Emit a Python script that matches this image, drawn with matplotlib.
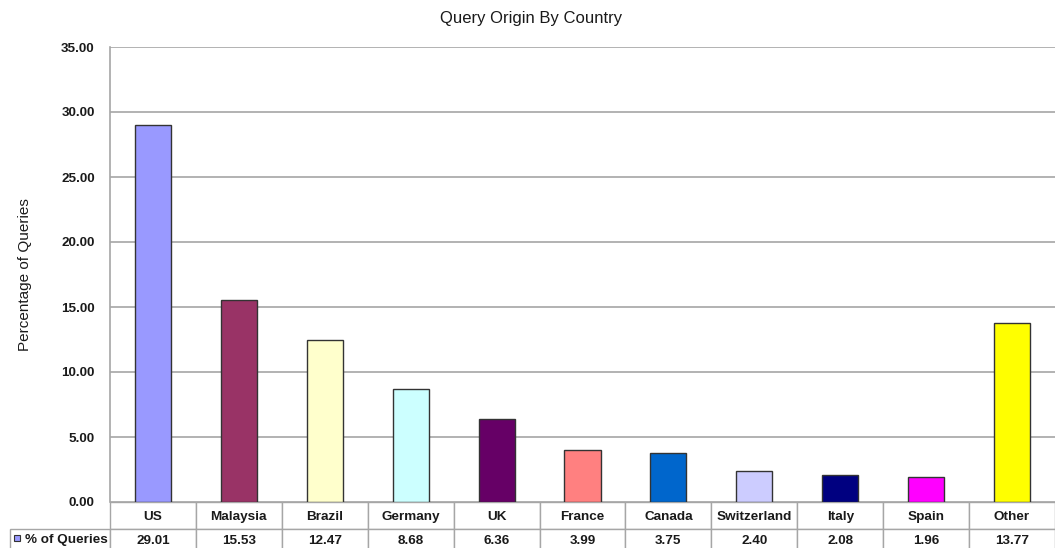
import matplotlib.pyplot as plt
from matplotlib.table import Table
from matplotlib.patches import Rectangle
import numpy as np

# data
countries = ["US", "Malaysia", "Brazil", "Germany", "UK", "France",
             "Canada", "Switzerland", "Italy", "Spain", "Other"]
pct_queries = [29.01, 15.53, 12.47, 8.68, 6.36, 3.99, 3.75, 2.40, 2.08, 1.96, 13.77]
bar_colors = ["#9999FF", "#993366", "#FFFFCC", "#CCFFFF", "#660066", "#FF8080",
              "#0066CC", "#CCCCFF", "#000080", "#FF00FF", "#FFFF00"]
series_name = "% of Queries"

plt.rcParams['font.family'] = ['Liberation Sans', 'DejaVu Sans']
grid_gray = "#a6a6a6"
txt_color = "#1a1a1a"
fs = 9.7

W, H = 1055, 548
fig = plt.figure(figsize=(W / 100, H / 100), dpi=100)
# plot area in pixels: left 110, right 1055, top 47, bottom 502
ax = fig.add_axes([110 / W, (H - 502) / H, 945 / W, 455 / H])

x = np.arange(len(countries))
ax.bar(x, pct_queries, width=0.42, color=bar_colors, edgecolor="#333333",
       linewidth=1.0, zorder=3)

ax.set_xlim(-0.5, len(countries) - 0.5)
ax.set_ylim(0, 35)
ax.set_yticks(np.arange(0, 36, 5))
ax.set_yticklabels([f"{v:.2f}" for v in np.arange(0, 36, 5)],
                   fontsize=fs, fontweight="bold", color=txt_color)
ax.tick_params(axis="y", length=0, pad=11)
ax.set_xticks([])
ax.grid(axis="y", color=grid_gray, linewidth=1.2, zorder=0)
for s in ["top", "right", "bottom"]:
    ax.spines[s].set_visible(False)
ax.spines["left"].set_color(grid_gray)
ax.spines["left"].set_linewidth(1.2)

ax.set_ylabel("Percentage of Queries", fontsize=11, labelpad=21, color=txt_color)
fig.text(0.503, 1 - 19 / H, "Query Origin By Country", ha="center", va="center",
         fontsize=12, color=txt_color)

# data table under the axis (bbox covers data columns only, label column hangs left)
label_w = 100 / 945
col_w = 1.0 / len(countries)
row1_h = 27 / 455
row2_h = 20 / 455
tbl = Table(ax, bbox=[0, -(row1_h + row2_h), 1, row1_h + row2_h])
for j, (name, val) in enumerate(zip(countries, pct_queries)):
    c = tbl.add_cell(0, j, width=col_w, height=row1_h, text=name, loc="center")
    c.set_edgecolor(grid_gray)
    c = tbl.add_cell(1, j, width=col_w, height=row2_h, text=f"{val:.2f}", loc="center")
    c.set_edgecolor(grid_gray)
c = tbl.add_cell(0, -1, width=label_w, height=row1_h, text="")
c.set_edgecolor("none")
c = tbl.add_cell(1, -1, width=label_w, height=row2_h, text=series_name, loc="left")
c.set_edgecolor(grid_gray)
c.PAD = 0.15
tbl.auto_set_font_size(False)
tbl.set_fontsize(fs)
for cell in tbl.get_celld().values():
    t = cell.get_text()
    t.set_color(txt_color)
    t.set_fontweight("bold")
    t.set_va("center_baseline")
ax.add_table(tbl)

# legend key in the series label cell
fig.patches.append(Rectangle((14 / W, 1 - 541 / H), 6 / W, 6 / H,
                             transform=fig.transFigure, facecolor=bar_colors[0],
                             edgecolor="#333333", linewidth=0.8))

fig.savefig("out.png", dpi=100)
